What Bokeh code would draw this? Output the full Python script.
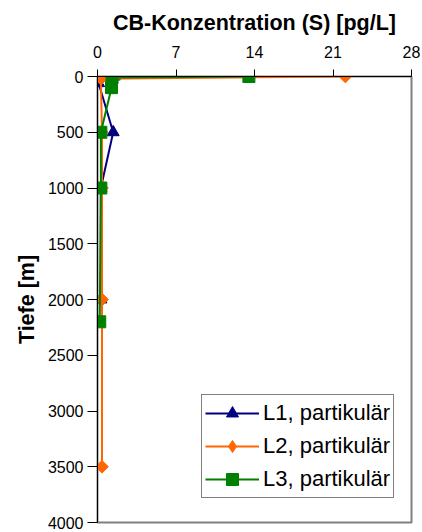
from bokeh.plotting import figure
from bokeh.models import Range1d, FixedTicker, Legend, LegendItem
from bokeh.embed import file_html
from bokeh.resources import INLINE

# ---- data ----
x_ticks = [0, 7, 14, 21, 28]
y_ticks = [0, 500, 1000, 1500, 2000, 2500, 3000, 3500, 4000]

l1_conc = [1.5, 0.1, 1.4, 0.3, 0.3]
l1_depth = [0, 60, 500, 1000, 2000]

l2_conc = [22.1, 0.3, 0.4, 0.4, 0.4, 0.4]
l2_depth = [0, 20, 500, 1000, 2000, 3500]

l3_conc = [13.5, 1.3, 1.25, 0.3, 0.3, 0.2]
l3_depth = [0, 10, 100, 500, 1000, 2200]

labels = ["L1, partikulär", "L2, partikulär", "L3, partikulär"]
colors = ["#000080", "#FF6600", "#008000"]

FONT = "Liberation Sans"

p = figure(width=422, height=532, output_backend="svg", toolbar_location=None,
           x_axis_location="above",
           x_range=Range1d(0, 28), y_range=Range1d(4000, 0),
           min_border_left=97, min_border_right=11, min_border_top=76, min_border_bottom=10)

p.background_fill_color = "white"
p.border_fill_color = "white"
p.outline_line_color = "#808080"
p.outline_line_width = 2
p.xgrid.visible = False
p.ygrid.visible = False

for ax in (p.xaxis[0], p.yaxis[0]):
    ax.axis_line_color = "#000000"
    ax.axis_line_width = 1
    ax.major_tick_line_color = "#000000"
    ax.major_tick_in = 0
    ax.minor_tick_line_color = None
    ax.major_label_text_font = FONT
    ax.major_label_text_font_size = "16px"
    ax.major_label_text_color = "#000000"
    ax.axis_label_text_font = FONT
    ax.axis_label_text_font_style = "bold"
    ax.axis_label_text_font_size = "21.5px"
    ax.axis_label_text_color = "#000000"

p.xaxis[0].ticker = FixedTicker(ticks=x_ticks)
p.yaxis[0].ticker = FixedTicker(ticks=y_ticks)
p.xaxis[0].axis_label = "CB-Konzentration (S) [pg/L]"
p.yaxis[0].axis_label = "Tiefe [m]"
p.xaxis[0].major_tick_out = 7
p.yaxis[0].major_tick_out = 10
p.xaxis[0].major_label_standoff = 12
p.yaxis[0].major_label_standoff = 4
p.xaxis[0].axis_label_standoff = 8
p.yaxis[0].axis_label_standoff = 6

r1l = p.line(l1_conc, l1_depth, line_color=colors[0], line_width=2)
r1m = p.scatter(l1_conc, l1_depth, marker="triangle", size=12, fill_color=colors[0], line_color=colors[0])
r2l = p.line(l2_conc, l2_depth, line_color=colors[1], line_width=2)
r2m = p.scatter(l2_conc, l2_depth, marker="square", angle=45, angle_units="deg", size=9,
                fill_color=colors[1], line_color=colors[1])
r3l = p.line(l3_conc, l3_depth, line_color=colors[2], line_width=2)
r3m = p.scatter(l3_conc, l3_depth, marker="square", size=12, fill_color=colors[2], line_color=colors[2])

# legend-only diamond key (the legend draws markers unrotated); hidden in the plot
r2key = p.scatter(l2_conc, l2_depth, marker="diamond", fill_color=colors[1], line_color=colors[1],
                  visible=False)

legend = Legend(items=[
    LegendItem(label=labels[0], renderers=[r1l, r1m]),
    LegendItem(label=labels[1], renderers=[r2l, r2key]),
    LegendItem(label=labels[2], renderers=[r3l, r3m]),
], location=(104, 24))
legend.click_policy = "none"
legend.label_text_font = FONT
legend.label_text_font_size = "22px"
legend.label_text_color = "#000000"
legend.glyph_width = 54
legend.glyph_height = 30
legend.label_height = 30
legend.label_width = 127
legend.spacing = 3
legend.padding = 3
legend.margin = 0
legend.label_standoff = 4
legend.border_line_color = "#000000"
legend.border_line_width = 1
legend.background_fill_color = "white"
legend.background_fill_alpha = 1
p.add_layout(legend)

open("out.html", "w").write(file_html(p, INLINE))
